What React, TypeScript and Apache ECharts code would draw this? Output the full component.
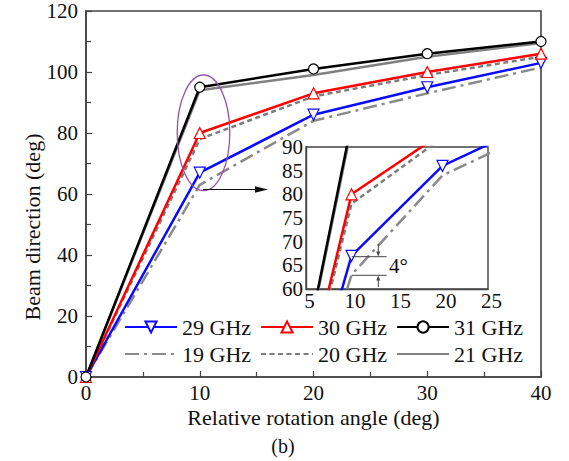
import React, { useEffect, useRef } from "react";
import * as echarts from "echarts";

const angles = [0, 10, 20, 30, 40];
const ghz29 = [0, 67, 86, 95, 103];
const ghz30 = [0, 80, 93, 100, 106];
const ghz31 = [0, 95, 101, 106, 110];
const ghz19 = [0, 63, 84, 93, 101.5];
const ghz20 = [0, 78, 92, 99, 105];
const ghz21 = [0, 94, 99, 105, 109.5];

const legendRow1 = ["29 GHz", "30 GHz", "31 GHz"];
const legendRow2 = ["19 GHz", "20 GHz", "21 GHz"];

const FONT = "'Liberation Serif', 'Times New Roman', serif";

const pairs = (ys: number[]) => angles.map((x, i) => [x, ys[i]]);

type Spec = {
  name: string;
  data: number[];
  color: string;
  type: any;
  symbol: string;
  rotate?: number;
  z: number;
};

const specs: Spec[] = [
  { name: "19 GHz", data: ghz19, color: "#8a8a8a", type: [14, 5, 3, 5], symbol: "none", z: 2 },
  { name: "20 GHz", data: ghz20, color: "#7d7d7d", type: [5, 3.5], symbol: "none", z: 2 },
  { name: "21 GHz", data: ghz21, color: "#808080", type: "solid", symbol: "none", z: 2 },
  { name: "29 GHz", data: ghz29, color: "#0a0aff", type: "solid", symbol: "triangle", rotate: 180, z: 3 },
  { name: "30 GHz", data: ghz30, color: "#ff0000", type: "solid", symbol: "triangle", z: 3 },
  { name: "31 GHz", data: ghz31, color: "#000000", type: "solid", symbol: "circle", z: 3 },
];

function makeSeries(s: Spec, inset: boolean) {
  return {
    type: "line",
    name: s.name,
    data: pairs(s.data),
    xAxisIndex: inset ? 1 : 0,
    yAxisIndex: inset ? 1 : 0,
    z: inset ? s.z + 10 : s.z,
    clip: true,
    symbol: s.symbol,
    symbolSize: s.symbol === "circle" ? 10 : 11,
    symbolRotate: s.rotate || 0,
    showAllSymbol: true,
    lineStyle: { color: s.color, width: 2.5, type: s.type },
    itemStyle: { color: "#ffffff", borderColor: s.color, borderWidth: 1.2 },
    emphasis: { disabled: true },
  };
}

export default function App() {
  const ref = useRef<HTMLDivElement>(null);
  useEffect(() => {
    if (!ref.current) return;
    const chart = echarts.init(ref.current, null, { renderer: "svg" });
    const axisColor = "#444";
    const labelStyle = { fontFamily: FONT, fontSize: 21, lineHeight: 18, color: "#111" };
    const legendBase = {
      left: 124,
      padding: 0,
      itemWidth: 52,
      itemHeight: 14,
      itemGap: 9,
      textStyle: { fontFamily: FONT, fontSize: 22, lineHeight: 20, color: "#111" },
      selectedMode: false,
      orient: "horizontal",
    };
    const g = (o: any) => ({ z: 100, silent: true, ...o });
    chart.setOption({
      animation: false,
      backgroundColor: "#ffffff",
      grid: [
        { left: 86, top: 11, width: 455, height: 366, show: true, borderColor: axisColor, borderWidth: 1.6, backgroundColor: "transparent", z: 0 },
        { left: 306, top: 147, width: 182, height: 142, show: true, borderColor: axisColor, borderWidth: 1.4, backgroundColor: "#ffffff", z: 8 },
      ],
      xAxis: [
        {
          type: "value", gridIndex: 0, min: 0, max: 40, interval: 10,
          name: "Relative rotation angle (deg)", nameLocation: "middle", nameGap: 31,
          nameMoveOverlap: false,
          nameTextStyle: { fontFamily: FONT, fontSize: 22, lineHeight: 18, color: "#111", verticalAlign: "top" },
          axisLine: { show: true, lineStyle: { color: axisColor, width: 1.6 } },
          axisTick: { show: true, inside: true, length: 6, lineStyle: { color: axisColor, width: 1.2 } },
          minorTick: { show: true, splitNumber: 2, length: 5, lineStyle: { color: axisColor, width: 1.2 } },
          splitLine: { show: false },
          axisLabel: { ...labelStyle, margin: 7 },
        },
        {
          type: "value", gridIndex: 1, min: 5, max: 25, interval: 5, z: 9,
          axisLine: { show: true, lineStyle: { color: axisColor, width: 1.4 } },
          axisTick: { show: false },
          splitLine: { show: false },
          axisLabel: { ...labelStyle, margin: 3, padding: [0, 0, 0, 7] },
        },
      ],
      yAxis: [
        {
          type: "value", gridIndex: 0, min: 0, max: 120, interval: 20,
          axisLine: { show: true, lineStyle: { color: axisColor, width: 1.6 } },
          axisTick: { show: true, inside: true, length: 6, lineStyle: { color: axisColor, width: 1.2 } },
          minorTick: { show: true, splitNumber: 2, length: 5, lineStyle: { color: axisColor, width: 1.2 } },
          splitLine: { show: false },
          axisLabel: { ...labelStyle, margin: 8 },
        },
        {
          type: "value", gridIndex: 1, min: 60, max: 90, interval: 5, z: 9,
          axisLine: { show: true, lineStyle: { color: axisColor, width: 1.4 } },
          axisTick: { show: false },
          splitLine: { show: false },
          axisLabel: { ...labelStyle, margin: 3 },
        },
      ],
      legend: [
        { ...legendBase, top: 316, data: legendRow1 },
        {
          ...legendBase,
          top: 343,
          data: legendRow2.map((n) => ({ name: n, itemStyle: { opacity: 0 } })),
        },
      ],
      series: [
        ...specs.map((s) => makeSeries(s, false)),
        ...specs.map((s) => makeSeries(s, true)),
      ],
      graphic: [
        g({ type: "text", x: 32, y: 227, rotation: Math.PI / 2, style: { text: "Beam direction (deg)", font: `22px ${FONT}`, fill: "#111", align: "center", verticalAlign: "middle" } }),
        g({ type: "text", x: 283, y: 446, style: { text: "(b)", font: `20px ${FONT}`, lineHeight: 18, fill: "#111", align: "center", verticalAlign: "middle" } }),
        g({ type: "ellipse", shape: { cx: 203.5, cy: 132.8, rx: 26.3, ry: 57.8 }, style: { fill: "none", stroke: "#9a4fb0", lineWidth: 1.3 } }),
        g({ type: "line", shape: { x1: 203, y1: 189.5, x2: 258, y2: 189.5 }, style: { stroke: "#111", lineWidth: 1.2 } }),
        g({ type: "polygon", shape: { points: [[255, 186.3], [268, 189.5], [255, 192.7]] }, style: { fill: "#111" } }),
        g({ type: "line", shape: { x1: 351.7, y1: 256.7, x2: 386.7, y2: 256.7 }, style: { stroke: "#444", lineWidth: 1 } }),
        g({ type: "line", shape: { x1: 351.7, y1: 275.3, x2: 386.7, y2: 275.3 }, style: { stroke: "#444", lineWidth: 1 } }),
        g({ type: "line", shape: { x1: 378.3, y1: 244, x2: 378.3, y2: 253 }, style: { stroke: "#444", lineWidth: 1 } }),
        g({ type: "polygon", shape: { points: [[376.3, 251.5], [378.3, 256.5], [380.3, 251.5]] }, style: { fill: "#444" } }),
        g({ type: "line", shape: { x1: 378.3, y1: 287, x2: 378.3, y2: 279 }, style: { stroke: "#444", lineWidth: 1 } }),
        g({ type: "polygon", shape: { points: [[376.3, 280.5], [378.3, 275.5], [380.3, 280.5]] }, style: { fill: "#444" } }),
        g({ type: "text", x: 389, y: 265.5, style: { text: "4°", font: `21px ${FONT}`, fill: "#111", align: "left", verticalAlign: "middle" } }),
      ],
    });
    return () => chart.dispose();
  }, []);
  return (
    <div
      ref={ref}
      style={{ position: "absolute", left: 0, top: 0, width: 569, height: 461 }}
    />
  );
}
